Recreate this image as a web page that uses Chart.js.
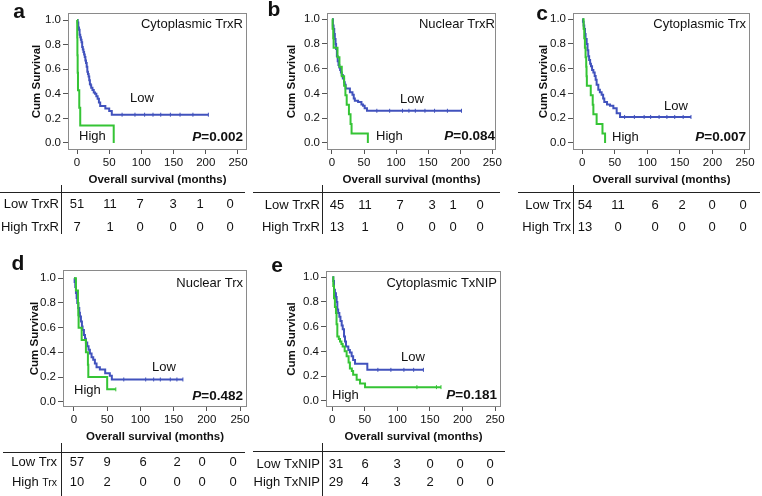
<!DOCTYPE html>
<html>
<head>
<meta charset="utf-8">
<script src="https://cdn.jsdelivr.net/npm/chart.js@4.4.1/dist/chart.umd.min.js"></script>
<style>
  html, body { margin: 0; padding: 0; background: #fff; }
  #page { position: relative; width: 762px; height: 496px; overflow: hidden; }
  #page canvas { position: absolute; }
</style>
</head>
<body>
<div id="page">
  <canvas id="panelA"></canvas>
  <canvas id="panelB"></canvas>
  <canvas id="panelC"></canvas>
  <canvas id="panelD"></canvas>
  <canvas id="panelE"></canvas>
</div>
<script>
// axis ticks
const monthTicks = [0, 50, 100, 150, 200, 250];
const survTicks = [0, 0.2, 0.4, 0.6, 0.8, 1.0];

// a - Cytoplasmic TrxR (event times in months, survival after each event, censored times)
const aLowT = [0, 1, 2, 3, 4, 5, 6, 7, 8, 9, 10, 11, 12, 13, 14, 15, 16, 17, 18, 19, 20, 21, 22, 24, 26, 28, 30, 32, 34, 36, 44, 50, 54];
const aLowS = [1, 0.98, 0.94, 0.92, 0.88, 0.86, 0.84, 0.82, 0.78, 0.76, 0.74, 0.72, 0.70, 0.67, 0.65, 0.62, 0.58, 0.56, 0.54, 0.51, 0.48, 0.47, 0.45, 0.43, 0.41, 0.40, 0.38, 0.36, 0.33, 0.30, 0.28, 0.26, 0.23];
const aLowC = [70, 90, 105, 118, 130, 145, 160, 180, 204];
const aHighT = [0, 0.3, 0.6, 1, 1.5, 3.5, 5, 57];
const aHighS = [1, 0.857, 0.714, 0.571, 0.429, 0.286, 0.143, 0];
const aHighC = [];
const aLowRisk = [51, 11, 7, 3, 1, 0];
const aHighRisk = [7, 1, 0, 0, 0, 0];

// b - Nuclear TrxR
const bLowT = [0, 1.5, 2.5, 3.6, 4.5, 5.6, 6.5, 7.7, 9, 10.2, 11.5, 12.8, 14, 15.3, 17, 18.9, 20, 21.4, 28, 32, 34, 35.7, 40.8, 46, 48.5, 51, 54.6];
const bLowS = [1, 0.95, 0.92, 0.88, 0.84, 0.80, 0.76, 0.70, 0.66, 0.63, 0.61, 0.59, 0.57, 0.55, 0.52, 0.49, 0.47, 0.44, 0.41, 0.39, 0.36, 0.34, 0.33, 0.31, 0.30, 0.28, 0.26];
const bLowC = [70, 90, 110, 120, 130, 145, 160, 180, 202];
const bHighT = [0, 1, 2, 2.6, 8.7, 11.7, 15.3, 19, 21, 23, 26.5, 29, 30.6, 56];
const bHighS = [1, 0.923, 0.846, 0.769, 0.692, 0.615, 0.538, 0.462, 0.385, 0.308, 0.231, 0.154, 0.077, 0];
const bHighC = [];
const bLowRisk = [45, 11, 7, 3, 1, 0];
const bHighRisk = [13, 1, 0, 0, 0, 0];

// c - Cytoplasmic Trx
const cLowT = [0, 1, 2, 3, 4.1, 5, 6.7, 8, 9.2, 10.5, 12, 13.3, 15, 17, 19, 20.5, 22, 24.6, 27, 29.7, 32, 33.8, 38, 42.6, 47.7, 52.8, 58];
const cLowS = [1, 0.98, 0.95, 0.92, 0.88, 0.84, 0.80, 0.75, 0.70, 0.67, 0.64, 0.62, 0.59, 0.57, 0.54, 0.51, 0.47, 0.43, 0.41, 0.39, 0.36, 0.33, 0.31, 0.30, 0.28, 0.24, 0.21];
const cLowC = [65, 80, 95, 105, 118, 130, 142, 155, 167];
const cHighT = [0, 2, 3, 4, 5, 6, 6.5, 7, 13, 16, 17, 22, 31, 35];
const cHighS = [1, 0.923, 0.846, 0.769, 0.692, 0.615, 0.538, 0.462, 0.385, 0.308, 0.231, 0.154, 0.077, 0];
const cHighC = [];
const cLowRisk = [54, 11, 6, 2, 0, 0];
const cHighRisk = [13, 0, 0, 0, 0, 0];

// d - Nuclear Trx
const dLowT = [0, 1, 2, 3, 4, 5, 6.5, 8, 9, 10.5, 12, 13, 15, 16.6, 18, 20, 22, 24, 26.5, 29, 31.5, 34, 39, 47, 54, 57];
const dLowS = [1, 0.97, 0.93, 0.88, 0.84, 0.80, 0.76, 0.72, 0.69, 0.65, 0.61, 0.58, 0.54, 0.51, 0.48, 0.45, 0.42, 0.39, 0.36, 0.34, 0.31, 0.28, 0.26, 0.23, 0.21, 0.18];
const dLowC = [75, 108, 120, 130, 145, 155, 164];
const dHighT = [0, 3, 6, 6.5, 7, 11.6, 18, 21, 21.6, 50];
const dHighS = [1, 0.9, 0.8, 0.7, 0.6, 0.5, 0.4, 0.3, 0.2, 0.1];
const dHighC = [63];
const dLowRisk = [57, 9, 6, 2, 0, 0];
const dHighRisk = [10, 2, 0, 0, 0, 0];

// e - Cytoplasmic TxNIP
const eLowT = [0, 1.5, 2.6, 4, 5.6, 6.6, 7.7, 9, 10.8, 12.5, 14.4, 16, 18, 19.5, 21, 24.6, 27, 29.7, 32, 34.9, 53.8];
const eLowS = [1, 0.97, 0.90, 0.87, 0.84, 0.80, 0.74, 0.71, 0.68, 0.645, 0.61, 0.58, 0.52, 0.48, 0.44, 0.41, 0.39, 0.36, 0.33, 0.30, 0.25];
const eLowC = [70, 90, 110, 125, 140];
const eHighT = [0, 1.5, 2.6, 4, 5.6, 6.5, 7.7, 10, 11.8, 14, 15.9, 19, 22, 25, 27, 30, 32, 37.4, 42.6, 50.3];
const eHighS = [1, 0.93, 0.83, 0.76, 0.71, 0.62, 0.52, 0.50, 0.48, 0.46, 0.44, 0.40, 0.36, 0.31, 0.26, 0.24, 0.21, 0.17, 0.14, 0.11];
const eHighC = [130, 160, 167];
const eLowRisk = [31, 6, 3, 0, 0, 0];
const eHighRisk = [29, 4, 3, 2, 0, 0];

const BLUE = '#4152bd';
const GREEN = '#35c435';
const FONT = '"Liberation Sans", Arial, sans-serif';
const INK = '#111';

// page layout of each panel (pixels)
const panels = [
  { id: 'panelA', L: 0, T: 0, W: 252, H: 242, box: [68, 13, 247, 150], xr: [-14, 264], yr: [-0.057, 1.057],
    yTitleX: 37, xTitleY: 180, letter: 'a', letterAt: [19, 12], title: 'Cytoplasmic TrxR', titleY: 24,
    lowAt: [130, 98], highAt: [79, 136], pY: 137, p: '0.002',
    low: [aLowT, aLowS, aLowC], high: [aHighT, aHighS, aHighC], risk: [aLowRisk, aHighRisk],
    rows: ['Low TrxR', 'High TrxR'], hline: [0, 245, 192], vline: [61, 185, 234], rowY: [204, 227], labelR: 59,
    cols: [77, 110, 140, 173, 200, 230] },
  { id: 'panelB', L: 252, T: 0, W: 252, H: 242, box: [327, 13, 499, 150], xr: [-7.7, 256], yr: [-0.057, 1.05],
    yTitleX: 292, xTitleY: 180, letter: 'b', letterAt: [274, 10], title: 'Nuclear TrxR', titleY: 24,
    lowAt: [400, 99], highAt: [376, 136], pY: 136, p: '0.084',
    low: [bLowT, bLowS, bLowC], high: [bHighT, bHighS, bHighC], risk: [bLowRisk, bHighRisk],
    rows: ['Low TrxR', 'High TrxR'], hline: [253, 500, 192], vline: [322, 185, 234], rowY: [205, 227], labelR: 320,
    cols: [337, 365, 400, 432, 453, 480] },
  { id: 'panelC', L: 504, T: 0, W: 258, H: 242, box: [573, 13, 750, 150], xr: [-14.3, 257.7], yr: [-0.057, 1.05],
    yTitleX: 544, xTitleY: 180, letter: 'c', letterAt: [542, 14], title: 'Cytoplasmic Trx', titleY: 24,
    lowAt: [664, 106], highAt: [612, 137], pY: 137, p: '0.007',
    low: [cLowT, cLowS, cLowC], high: [cHighT, cHighS, cHighC], risk: [cLowRisk, cHighRisk],
    rows: ['Low Trx', 'High Trx'], hline: [518, 760, 192], vline: [573, 185, 234], rowY: [205, 227], labelR: 571,
    cols: [585, 618, 655, 682, 712, 743] },
  { id: 'panelD', L: 0, T: 250, W: 252, H: 246, box: [63, 270, 247, 407], xr: [-16.5, 260.5], yr: [-0.043, 1.067],
    yTitleX: 35, xTitleY: 437, letter: 'd', letterAt: [18, 264], title: 'Nuclear Trx', titleY: 283,
    lowAt: [152, 367], highAt: [74, 390], pY: 396, p: '0.482',
    low: [dLowT, dLowS, dLowC], high: [dHighT, dHighS, dHighC], risk: [dLowRisk, dHighRisk],
    rows: ['Low Trx', 'High Trx'], smallTail: 'Trx', hline: [3, 245, 452], vline: [61, 443, 496], rowY: [462, 482], labelR: 57,
    cols: [77, 107, 143, 177, 202, 233] },
  { id: 'panelE', L: 252, T: 250, W: 256, H: 246, box: [326, 271, 501, 407], xr: [-9.7, 259.2], yr: [-0.051, 1.051],
    yTitleX: 292, xTitleY: 437, letter: 'e', letterAt: [277, 266], title: 'Cytoplasmic TxNIP', titleY: 283,
    lowAt: [401, 357], highAt: [332, 395], pY: 395, p: '0.181',
    low: [eLowT, eLowS, eLowC], high: [eHighT, eHighS, eHighC], risk: [eLowRisk, eHighRisk],
    rows: ['Low TxNIP', 'High TxNIP'], hline: [253, 505, 451], vline: [322, 443, 496], rowY: [464, 482], labelR: 320,
    cols: [336, 365, 397, 430, 460, 490] }
];

function kmPoints(T, S, C) {
  const pts = T.map((t, i) => ({ x: t, y: S[i] }));
  const lastC = C.length ? Math.max(...C) : -1;
  if (lastC > T[T.length - 1]) pts.push({ x: lastC, y: S[S.length - 1] });
  return pts;
}

function survAt(T, S, t) {
  let v = S[0];
  for (let i = 0; i < T.length; i++) if (T[i] <= t) v = S[i];
  return v;
}

function censorPoints(T, S, C) {
  return C.map(t => ({ x: t, y: survAt(T, S, t) }));
}

function lineSet(curve, color) {
  return { data: kmPoints(curve[0], curve[1], curve[2]), borderColor: color, borderWidth: 2,
    stepped: true, pointRadius: 0, fill: false };
}

// small vertical ticks for censored cases
function censorSet(curve, color) {
  return { type: 'scatter', data: censorPoints(curve[0], curve[1], curve[2]), pointStyle: 'line',
    pointRotation: 90, pointRadius: 2, pointBorderColor: color, pointBorderWidth: 1, showLine: false };
}

// box around plot, labels and risk table
const panelDecor = {
  id: 'panelDecor',
  afterDraw(chart) {
    const p = chart.options.plugins.panelDecor.cfg;
    const ctx = chart.ctx;
    const a = chart.chartArea;
    const ox = p.L, oy = p.T;
    ctx.save();
    ctx.strokeStyle = '#8a8a8a';
    ctx.lineWidth = 1;
    ctx.strokeRect(Math.round(a.left) + 0.5, Math.round(a.top) + 0.5, Math.round(a.right - a.left) - 1, Math.round(a.bottom - a.top) - 1);

    ctx.fillStyle = INK;
    ctx.textBaseline = 'middle';

    ctx.font = 'bold 21px ' + FONT;
    ctx.textAlign = 'center';
    ctx.fillText(p.letter, p.letterAt[0] - ox, p.letterAt[1] - oy);

    ctx.font = '13px ' + FONT;
    ctx.textAlign = 'right';
    ctx.fillText(p.title, p.box[2] - 4 - ox, p.titleY - oy);
    ctx.textAlign = 'left';
    ctx.fillText('Low', p.lowAt[0] - ox, p.lowAt[1] - oy);
    ctx.fillText('High', p.highAt[0] - ox, p.highAt[1] - oy);

    // P value, italic P
    ctx.font = 'bold 13.5px ' + FONT;
    const rest = '=' + p.p;
    const wRest = ctx.measureText(rest).width;
    ctx.font = 'italic bold 13.5px ' + FONT;
    const wP = ctx.measureText('P').width;
    const px = p.box[2] - 4 - ox - wRest - wP;
    ctx.fillText('P', px, p.pY - oy);
    ctx.font = 'bold 13.5px ' + FONT;
    ctx.fillText(rest, px + wP, p.pY - oy);

    // numbers at risk
    ctx.strokeStyle = '#222';
    ctx.beginPath();
    ctx.moveTo(p.hline[0] - ox, p.hline[2] - oy + 0.5);
    ctx.lineTo(p.hline[1] - ox, p.hline[2] - oy + 0.5);
    ctx.moveTo(p.vline[0] - ox + 0.5, p.vline[1] - oy);
    ctx.lineTo(p.vline[0] - ox + 0.5, p.vline[2] - oy);
    ctx.stroke();

    ctx.font = '13px ' + FONT;
    p.rows.forEach((label, r) => {
      const y = p.rowY[r] - oy;
      ctx.textAlign = 'right';
      if (p.smallTail && r === 1 && label.endsWith(p.smallTail)) {
        ctx.font = '10.5px ' + FONT;
        const wt = ctx.measureText(p.smallTail).width;
        ctx.fillText(p.smallTail, p.labelR - ox, y + 1);
        ctx.font = '13px ' + FONT;
        ctx.fillText(label.slice(0, -p.smallTail.length), p.labelR - ox - wt, y);
      } else {
        ctx.fillText(label, p.labelR - ox, y);
      }
      ctx.textAlign = 'center';
      p.risk[r].forEach((n, i) => ctx.fillText(String(n), p.cols[i] - ox, y));
    });
    ctx.restore();
  }
};

panels.forEach(p => {
  const canvas = document.getElementById(p.id);
  canvas.width = p.W;
  canvas.height = p.H;
  canvas.style.left = p.L + 'px';
  canvas.style.top = p.T + 'px';

  const half = 11.5 * 1.2 / 2;
  const yLeft = p.yTitleX - half;
  const yWidth = p.box[0] - yLeft;
  const xHeight = p.xTitleY + half - p.box[3];

  new Chart(canvas, {
    type: 'line',
    data: {
      datasets: [
        lineSet(p.high, GREEN),
        lineSet(p.low, BLUE),
        censorSet(p.high, GREEN),
        censorSet(p.low, BLUE)
      ]
    },
    options: {
      responsive: false,
      animation: false,
      events: [],
      layout: {
        padding: { left: yLeft - p.L, top: p.box[1] - p.T, right: p.L + p.W - p.box[2], bottom: p.T + p.H - p.box[3] - xHeight }
      },
      plugins: {
        legend: { display: false },
        tooltip: { enabled: false },
        panelDecor: { cfg: p }
      },
      scales: {
        x: {
          type: 'linear',
          min: p.xr[0],
          max: p.xr[1],
          afterBuildTicks: s => { s.ticks = monthTicks.map(v => ({ value: v })); },
          afterFit: s => { s.height = xHeight; },
          border: { display: false },
          grid: { drawOnChartArea: false, drawTicks: true, tickLength: 4, color: '#555' },
          ticks: { font: { family: FONT, size: 11.5 }, color: INK, padding: 2, maxRotation: 0, callback: v => String(v) },
          title: { display: true, text: 'Overall survival (months)', font: { family: FONT, size: 11.5, weight: 'bold' }, color: INK, padding: 0 }
        },
        y: {
          type: 'linear',
          min: p.yr[0],
          max: p.yr[1],
          afterBuildTicks: s => { s.ticks = survTicks.map(v => ({ value: v })); },
          afterFit: s => { s.width = yWidth; },
          border: { display: false },
          grid: { drawOnChartArea: false, drawTicks: true, tickLength: 5, color: '#555' },
          ticks: { font: { family: FONT, size: 11.5 }, color: INK, padding: 2, callback: v => v.toFixed(1) },
          title: { display: true, text: 'Cum Survival', font: { family: FONT, size: 11.5, weight: 'bold' }, color: INK, padding: 0 }
        }
      }
    },
    plugins: [panelDecor]
  });
});
</script>
</body>
</html>
